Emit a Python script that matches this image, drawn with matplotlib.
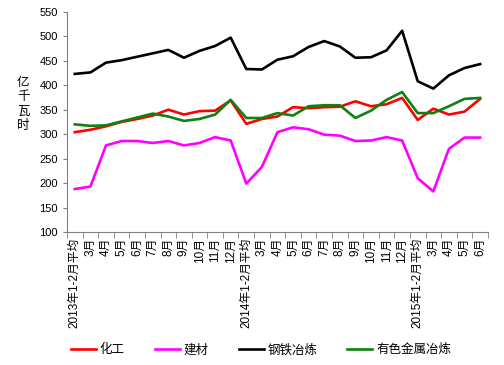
import matplotlib
matplotlib.use("Agg")
import matplotlib.pyplot as plt
import numpy as np

plt.rcParams['font.family'] = ['Liberation Sans', 'Noto Sans CJK SC', 'DejaVu Sans']

# 横轴类别
months = ['3月', '4月', '5月', '6月', '7月', '8月', '9月', '10月', '11月', '12月']
labels = (['2013年1-2月平均'] + months + ['2014年1-2月平均'] + months
          + ['2015年1-2月平均', '3月', '4月', '5月', '6月'])

# 用电量 (亿千瓦时)
huagong = [304, 309, 316, 325, 331, 338, 350, 340, 347, 348, 369,
           321, 331, 336, 355, 353, 355, 356, 367, 357, 361, 374,
           329, 352, 340, 346, 372]
jiancai = [188, 193, 277, 286, 286, 282, 286, 277, 282, 294, 287,
           199, 233, 304, 314, 310, 299, 297, 286, 287, 294, 287,
           210, 183, 270, 293, 293]
gangtie = [423, 426, 446, 451, 458, 465, 472, 456, 470, 480, 497,
           433, 432, 452, 459, 478, 490, 479, 456, 457, 471, 511,
           408, 393, 420, 435, 443]
youse = [320, 317, 318, 326, 334, 342, 336, 327, 331, 340, 370,
         333, 333, 343, 338, 357, 359, 359, 333, 348, 370, 386,
         343, 343, 357, 372, 374]

series = [('化工', huagong, '#ff0000'),
          ('建材', jiancai, '#ff00ff'),
          ('钢铁冶炼', gangtie, '#000000'),
          ('有色金属冶炼', youse, '#108010')]

fig = plt.figure(figsize=(5.04, 3.65), dpi=100)
ax = fig.add_axes([0.133, 0.364, 0.835, 0.604])

x = np.arange(len(labels))
for name, vals, col in series:
    ax.plot(x, vals, color=col, lw=1.9, label=name)

ax.set_xlim(-0.5, len(labels) - 0.5)
ax.set_ylim(100, 550)
ax.set_yticks(np.arange(100, 551, 50))
ax.tick_params(axis='y', labelsize=8, length=3, color='#808080', direction='out')

ax.set_xticks(x)
ax.set_xticklabels(labels, rotation=90, fontsize=8.5)
ax.tick_params(axis='x', which='major', length=0, pad=4)
ax.set_xticks(np.arange(-0.5, len(labels), 1), minor=True)
ax.tick_params(axis='x', which='minor', length=4, color='#808080', direction='out')

for s in ['top', 'right']:
    ax.spines[s].set_visible(False)
for s in ['left', 'bottom']:
    ax.spines[s].set_color('#808080')

# 纵轴单位, 竖排 (每个字单独放)
for i, ch in enumerate('亿千瓦时'):
    fig.text(0.046, 1 - (83 + 14.2 * i) / 365, ch, fontsize=9,
             ha='center', va='center')

fig.legend(loc='center', bbox_to_anchor=(0.518, 0.041), ncol=4, frameon=False,
           fontsize=9, handlelength=2.0, columnspacing=2.4, handletextpad=0.3)

fig.savefig('out.png', dpi=100)
